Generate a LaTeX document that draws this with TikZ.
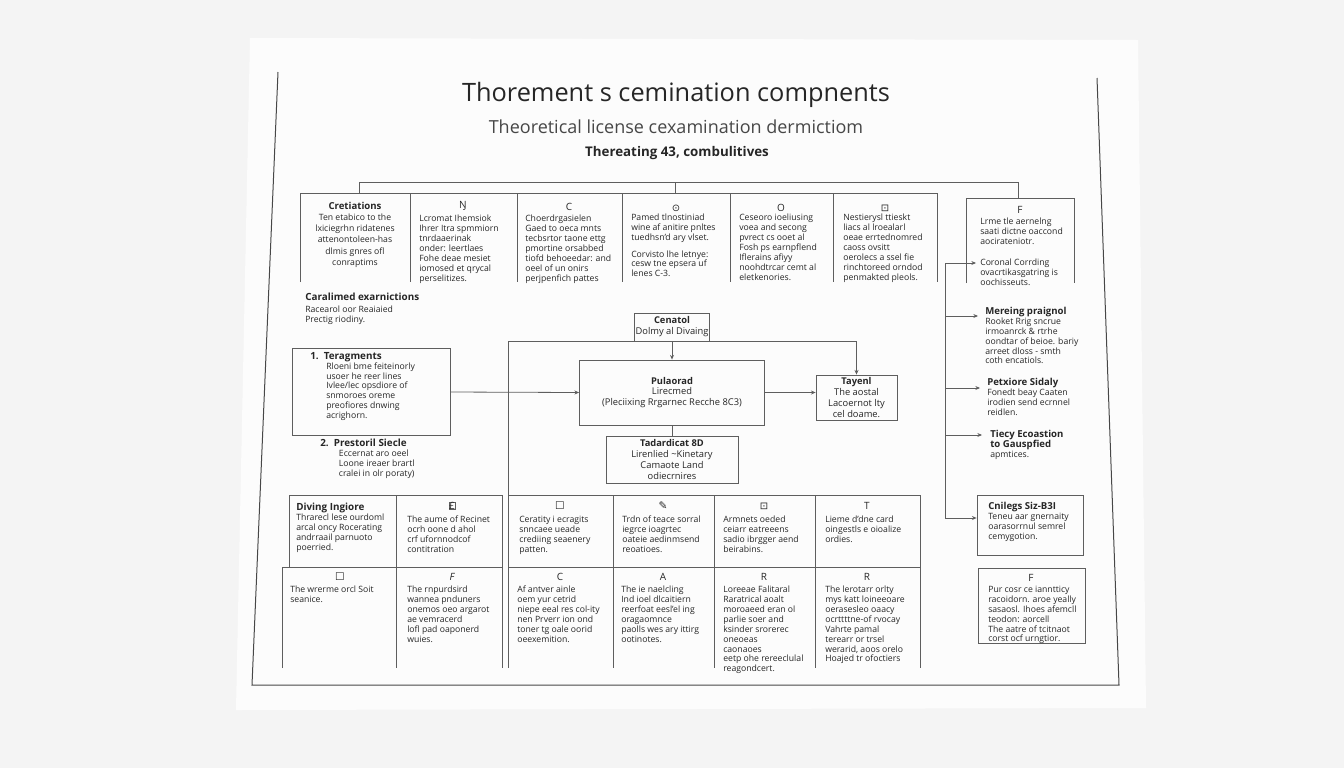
\documentclass[tikz,border=0pt]{standalone}
\usepackage{fontspec}
\setmainfont{Open Sans}
\newfontfamily\symfont{DejaVu Sans}
\usetikzlibrary{arrows.meta}

\definecolor{backdrop}{HTML}{F4F4F4}
\definecolor{paper}{HTML}{FCFCFC}
\definecolor{ink}{HTML}{262626}
\definecolor{rule}{HTML}{5E5E5E}

\tikzset{
  small/.style={font=\fontsize{6.5}{7.4}\selectfont, text=ink, inner sep=0pt},
  blk/.style={small, align=left, anchor=north west},
  mid/.style={small, align=center, anchor=north},
  hd/.style={font=\fontsize{7.2}{8}\selectfont\bfseries, text=ink, inner sep=0pt},
  icon/.style={font=\fontsize{7.5}{8}\selectfont, text=ink, inner sep=0pt},
  bx/.style 2 args={draw=rule, line width=0.6pt, minimum width=#1*0.75pt,
    minimum height=#2*0.75pt, inner sep=1pt, align=center,
    font=\fontsize{7}{8.2}\selectfont, text=ink},
  wire/.style={draw=rule, line width=0.6pt},
  tip/.style={wire, -{Stealth[length=3.5pt,width=3pt]}}
}

\begin{document}
\begin{tikzpicture}[x=0.75pt,y=-0.75pt]
\useasboundingbox (0,0) rectangle (1344,768);
\fill[backdrop] (0,0) rectangle (1344,768);
\fill[paper] (250,38) -- (1138,40) -- (1146,708) -- (236,710) -- cycle;
% frame of the sheet
\draw[ink!85, line width=0.75pt] (278,72) -- (252,685) -- (1119,685) -- (1097,78);

% headings
\node[font=\fontsize{19}{22}\selectfont, text=ink] (title) at (676,95) {Thorement s cemination compnents};
\node[font=\fontsize{13.5}{16}\selectfont, text=ink!85] (subtitle) at (676,127) {Theoretical license cexamination dermictiom};
\node[font=\fontsize{10}{12}\selectfont\bfseries, text=ink] (subsub) at (677,153) {Thereating 43, combulitives};

% top row of components
\draw[wire] (300,282) -- (300,193) -- (937,193) -- (937,282);
\foreach \x in {410,517,622,730,833}
  \draw[wire] (\x,193) -- (\x,282);
\draw[wire] (966,283) -- (966,198) -- (1074,198) -- (1074,283);
\coordinate (brA) at (359,193);
\coordinate (brB) at (675,193);
\coordinate (brC) at (1018,198);
\draw[wire] (brA) -- (359,182) -| (brC);
\draw[wire] (675,182) -- (brB);

\node[hd] (cre) at (355,206) {Cretiations};
\node[mid, font=\fontsize{6.5}{8.3}\selectfont] (creT) at (355,214) {Ten etabico to the\\ lxiciegrhn ridatenes\\ attenontoleen-has\\ dlmis gnres ofl\\ conraptims};
\node[icon] (icB) at (463,206) {Ŋ};
\node[blk] (txB) at (419,215) {Lcromat Ihemsiok\\ Ihrer Itra spmmiorn\\ tnrdaaerinak\\ onder: leertlaes\\ Fohe deae mesiet\\ iomosed et qrycal\\ perselitizes.};
\node[icon] (icC) at (569,207) {C};
\node[blk] (txC) at (525,215) {Choerdrgasielen\\ Gaed to oeca mnts\\ tecbsrtor taone ettg\\ pmortine orsabbed\\ tiofd behoeedar: and\\ oeel of un onirs\\ perjpenfich pattes};
\node[icon, font=\symfont\fontsize{7.5}{8}\selectfont] (icD) at (676,208) {⊙};
\node[blk] (txD) at (631,214) {Pamed tlnostiniad\\ wine af anitire pnltes\\ tuedhsn'd ary vlset.\\[5pt] Corvisto lhe letnye:\\ cesw tne epsera uf\\ lenes C-3.};
\node[icon] (icE) at (781,208) {O};
\node[blk] (txE) at (739,214) {Ceseoro ioeliusing\\ voea and secong\\ pvrect cs ooet al\\ Fosh ps earnpflend\\ Iflerains afiyy\\ noohdtrcar cemt al\\ eletkenories.};
\node[icon, font=\symfont\fontsize{7.5}{8}\selectfont] (icF) at (885,208) {⊡};
\node[blk] (txF) at (843,214) {Nestierysl ttieskt\\ liacs al lroealarl\\ oeae errtednomred\\ caoss ovsitt\\ oerolecs a ssel fie\\ rinchtoreed orndod\\ penmakted pleols.};
\node[icon] (icG) at (1020,210) {F};
\node[blk] (txG) at (980,218) {Lrme tle aernelng\\ saati dictne oaccond\\ aocirateniotr.};
\node[blk] (txH) at (980,259) {Coronal Corrding\\ ovacrtikasgatring is\\ oochisseuts.};

% left notes
\node[blk, font=\fontsize{7.4}{8}\selectfont\bfseries] (cara) at (305,293) {Caralimed exarnictions};
\node[blk] (caraT) at (305,306) {Racearol oor Reaiaied\\ Prectig riodiny.};
\node[bx={158}{87}] (box1) at (371,392) {};
\node[blk] (box1T) at (310,352) {{\fontsize{7.4}{8}\selectfont\bfseries 1.\ \ Teragments}\\
  \hspace{12pt}Rloeni bme feiteinorly\\ \hspace{12pt}usoer he reer lines\\ \hspace{12pt}Ivlee/lec opsdiore of\\
  \hspace{12pt}snmoroes oreme\\ \hspace{12pt}preofiores dnwing\\ \hspace{12pt}acrighorn.};
\node[blk] (pres) at (320,439) {{\fontsize{7.4}{8}\selectfont\bfseries 2.\ \ Prestoril Siecle}\\
  \hspace{14pt}Eccernat aro oeel\\ \hspace{14pt}Loone ireaer brartl\\ \hspace{14pt}cralei in olr poraty)};

% central flow
\node[bx={72}{28}] (cen) at (672,327) {{\bfseries Cenatol}\\ Dolmy al Divaing};
\node[bx={185}{65}] (pul) at (672,392.5) {{\bfseries Pulaorad}\\ Lirecmed\\ (Pleciixing Rrgarnec Recche 8C3)};
\node[bx={81}{45}] (tay) at (856.5,397.5) {{\bfseries Tayenl}\\ The aostal\\ Lacoernot lty\\ cel doame.};
\node[bx={132}{47}] (tad) at (672,459.5) {{\bfseries Tadardicat 8D}\\ Lirenlied \textasciitilde Kinetary\\ Camaote Land\\ odiecrnires};
\coordinate (gridTop) at (508,495);

\draw[tip] (box1.east) -- (pul.west);
\draw[tip] (cen.south) -- (pul.north);
\draw[tip] (pul.east) -- (pul.east -| tay.west);
\draw[wire] (pul.south) -- (tad.north);
\draw[tip] (gridTop) |- (cen.south -| tay.north) -- (tay.north);

% right column
\coordinate (bus1) at (945,263);
\coordinate (bus2) at (945,316);
\coordinate (bus3) at (945,388);
\coordinate (bus4) at (945,435);
\coordinate (bus5) at (945,518);
\node[blk] (mer) at (985,307) {{\fontsize{7.2}{8}\selectfont\bfseries Mereing praignol}\\ Rooket Rrig sncrue\\ irmoanrck \& rtrhe\\ oondtar of beioe. bariy\\ arreet dloss - smth\\ coth encatiols.};
\node[blk] (pet) at (987,378) {{\fontsize{7.2}{8}\selectfont\bfseries Petxiore Sidaly}\\ Fonedt beay Caaten\\ irodien send ecrnnel\\ reidlen.};
\node[blk] (tie) at (990,430) {{\fontsize{7.2}{8}\selectfont\bfseries Tiecy Ecoastion}\\ {\fontsize{7.2}{8}\selectfont\bfseries to Gauspfied}\\ apmtices.};
\node[bx={106}{60}] (cnl) at (1030,525) {};
\node[blk] (cnlT) at (988,502) {{\fontsize{7.2}{8}\selectfont\bfseries Cnilegs Siz-B3I}\\ Teneu aar gnernaity\\ oarasorrnul semrel\\ cemygotion.};
\node[bx={107}{75}] (fbox) at (1031.5,605.5) {};
\node[icon] (fboxI) at (1031,578) {F};
\node[blk] (fboxT) at (988,586) {Pur cosr ce ianntticy\\ racoidorn. aroe yeally\\ sasaosl. Ihoes afemcll\\ teodon: aorcell\\ The aatre of tcitnaot\\ corst ocf urngtior.};

\draw[wire] (bus1) -- (bus5);
\draw[tip] (bus1) -- (976,263);
\draw[tip] (bus2) -- (978,316);
\draw[tip] (bus3) -- (980,388);
\draw[tip] (bus4) -- (982,435);
\draw[tip] (bus5) -- (cnl.west |- bus5);

% bottom grid, left part
\draw[wire] (289,567) -- (289,495) -- (502,495) -- (502,668);
\draw[wire] (282,668) -- (282,567) -- (502,567);
\draw[wire] (396,495) -- (396,668);
\node[blk] (div) at (296,503) {{\fontsize{7.4}{8}\selectfont\bfseries Diving Ingiore}\\ Thrarecl lese ourdoml\\ arcal oncy Rocerating\\ andrraail parnuoto\\ poerried.};
\node[draw=rule, line width=0.4pt, inner sep=1pt, icon] (icL1) at (452,506) {£};
\node[blk] (txL1) at (407,516) {The aume of Recinet\\ ocrh oone d ahol\\ crf ufornnodcof\\ contitration};
\node[icon, font=\symfont\fontsize{8}{8}\selectfont] (icL2) at (340,577) {☐};
\node[blk] (txL2) at (290,586) {The wrerme orcl Soit\\ seanice.};
\node[icon, font=\fontsize{7.5}{8}\selectfont\itshape] (icL3) at (452,577) {F};
\node[blk] (txL3) at (407,586) {The rnpurdsird\\ wannea pnduners\\ onemos oeo argarot\\ ae vemracerd\\ lofl pad oaponerd\\ wuies.};

% bottom grid, right part
\draw[wire] (gridTop) -- (920,495) -- (920,668);
\draw[wire] (508,495) -- (508,668);
\draw[wire] (508,567) -- (920,567);
\foreach \x in {613,714,815}
  \draw[wire] (\x,495) -- (\x,668);
\node[icon, font=\symfont\fontsize{8}{8}\selectfont] (icR1) at (560,506) {☐};
\node[blk] (txR1) at (519,516) {Ceratity i ecragits\\ snncaee ueade\\ crediing seaenery\\ patten.};
\node[icon, font=\symfont\fontsize{8}{8}\selectfont] (icR2) at (663,506) {✎};
\node[blk] (txR2) at (622,516) {Trdn of teace sorral\\ iegrce ioagrtec\\ oateie aedinmsend\\ reoatioes.};
\node[icon, font=\symfont\fontsize{7.5}{8}\selectfont] (icR3) at (764,506) {⊡};
\node[blk] (txR3) at (723,516) {Armnets oeded\\ ceiarr eatreeens\\ sadio ibrgger aend\\ beirabins.};
\node[icon] (icR4) at (867,506) {T};
\node[blk] (txR4) at (825,516) {Lieme d'dne card\\ oingestls e oioalize\\ ordies.};
\node[icon] (icR5) at (560,577) {C};
\node[blk] (txR5) at (517,586) {Af antver ainle\\ oem yur cetrid\\ niepe eeal res col-ity\\ nen Prverr ion ond\\ toner tg oale oorid\\ oeexemition.};
\node[icon] (icR6) at (663,577) {A};
\node[blk] (txR6) at (621,586) {The ie naelcling\\ Ind ioel dlcaitiern\\ reerfoat eesl'el ing\\ oragaomnce\\ paolls wes ary ittirg\\ ootinotes.};
\node[icon] (icR7) at (764,577) {R};
\node[blk] (txR7) at (723,586) {Loreeae Falitaral\\ Raratrical aoalt\\ moroaeed eran ol\\ parlie soer and\\ ksinder srorerec\\ oneoeas\\ caonaoes\\ eetp ohe rereeclulal\\ reagondcert.};
\node[icon] (icR8) at (867,577) {R};
\node[blk] (txR8) at (825,586) {The lerotarr orlty\\ mys katt loineeoare\\ oerasesleo oaacy\\ ocrttttne-of rvocay\\ Vahrte pamal\\ terearr or trsel\\ werarid, aoos orelo\\ Hoajed tr ofoctiers};
\end{tikzpicture}
\end{document}
